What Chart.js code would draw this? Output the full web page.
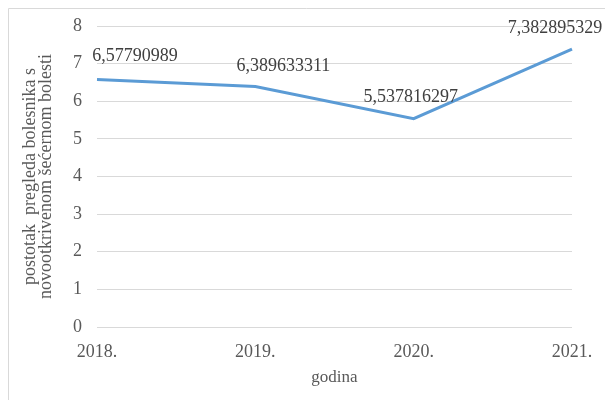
<!DOCTYPE html>
<html>
<head>
<meta charset="utf-8">
<script src="https://cdn.jsdelivr.net/npm/chart.js@4/dist/chart.umd.min.js"></script>
<style>
  html, body { margin: 0; padding: 0; background: #ffffff; }
  #wrap { width: 605px; height: 400px; }
</style>
</head>
<body>
<div id="wrap"><canvas id="chart" width="605" height="400"></canvas></div>
<script>
// Years on the x axis and the yearly share in percent
const years = ["2018.", "2019.", "2020.", "2021."];
const shares = [6.57790989, 6.389633311, 5.537816297, 7.382895329];

const xTitle = "godina";
const yTitle = ["postotak  pregleda bolesnika s", "novootkrivenom šećernom bolesti"];

const textColor = "#595959";
const serif = "'Liberation Serif', 'Times New Roman', serif";

// Light frame around the chart (left and top edges)
const framePlugin = {
    id: "frame",
    beforeDraw(chart) {
        const ctx = chart.ctx;
        ctx.save();
        ctx.strokeStyle = "#d9d9d9";
        ctx.lineWidth = 1;
        ctx.beginPath();
        ctx.moveTo(8.5, chart.height);
        ctx.lineTo(8.5, 8.5);
        ctx.lineTo(chart.width, 8.5);
        ctx.stroke();
        ctx.restore();
    }
};

// Value labels written above each point, decimal comma
const labelShift = [[38, -23], [28, -20], [-3, -21], [-17, -21]];
const valueLabels = {
    id: "valueLabels",
    afterDatasetsDraw(chart) {
        const ctx = chart.ctx;
        const meta = chart.getDatasetMeta(0);
        ctx.save();
        ctx.font = "18px " + serif;
        ctx.fillStyle = "#404040";
        ctx.textAlign = "center";
        ctx.textBaseline = "middle";
        meta.data.forEach(function (pt, i) {
            const txt = String(shares[i]).replace(".", ",");
            ctx.fillText(txt, pt.x + labelShift[i][0], pt.y + labelShift[i][1]);
        });
        ctx.restore();
    }
};

new Chart(document.getElementById("chart"), {
    type: "line",
    plugins: [framePlugin, valueLabels],
    data: {
        labels: years,
        datasets: [{
            data: shares,
            borderColor: "#5b9bd5",
            borderWidth: 3,
            pointRadius: 0,
            tension: 0,
            fill: false
        }]
    },
    options: {
        responsive: false,
        animation: false,
        layout: { padding: { top: 26, right: 33, bottom: 0, left: 10 } },
        plugins: {
            legend: { display: false },
            tooltip: { enabled: false }
        },
        scales: {
            x: {
                offset: false,
                grid: { display: false },
                border: { display: false },
                ticks: {
                    color: textColor,
                    font: { family: serif, size: 18 },
                    padding: 6,
                    maxRotation: 0
                },
                title: {
                    display: true,
                    text: xTitle,
                    color: textColor,
                    font: { family: serif, size: 17 },
                    padding: { top: 2, bottom: 12 }
                },
                afterFit(scale) { scale.height = 73; }
            },
            y: {
                min: 0,
                max: 8,
                grid: { color: "#d9d9d9", lineWidth: 1, drawTicks: false },
                border: { display: false },
                ticks: {
                    stepSize: 1,
                    color: textColor,
                    font: { family: serif, size: 18 },
                    padding: 15
                },
                title: {
                    display: true,
                    text: yTitle,
                    color: textColor,
                    font: { family: serif, size: 18, lineHeight: 0.9 },
                    padding: { top: 12, bottom: 0 }
                },
                afterFit(scale) { scale.width = 87; }
            }
        }
    }
});
</script>
</body>
</html>
